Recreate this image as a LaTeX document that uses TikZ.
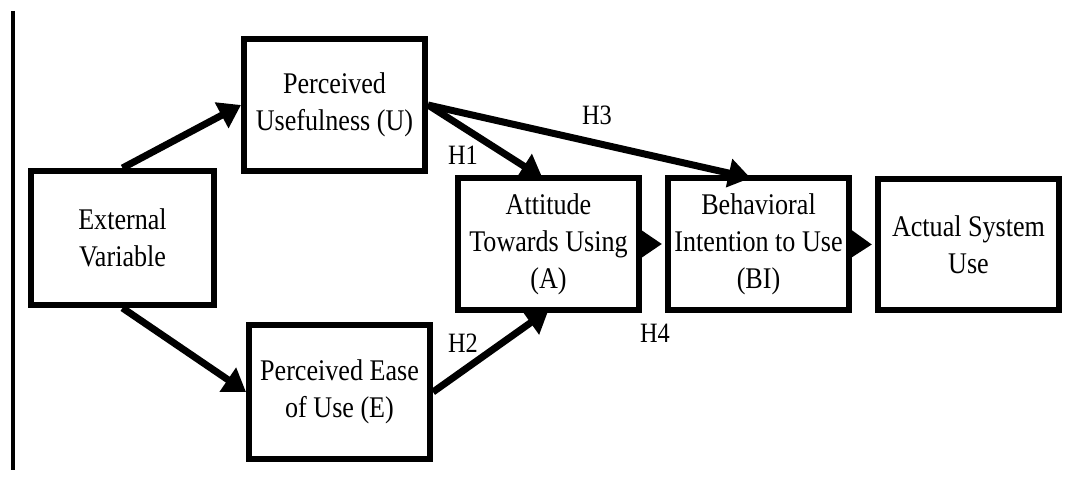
\documentclass[tikz,border=0pt]{standalone}
\usepackage{fontspec}
\setmainfont{Liberation Serif}[FakeStretch=0.87]
\usetikzlibrary{arrows.meta}
\begin{document}
\begin{tikzpicture}[x=1pt,y=-1pt,
  box/.style={draw=black,line width=6pt,fill=white,align=center,inner sep=0pt,
    minimum width=181pt,minimum height=132pt,font=\fontsize{30}{37}\selectfont},
  conn/.style={line width=7pt,-{Triangle[length=22pt,width=28pt]}},
  hlab/.style={inner sep=0pt,font=\fontsize{28}{32}\selectfont}]
\useasboundingbox (0,0) rectangle (1081,481);
\draw[line width=4pt] (13,11) coordinate (lt) -- (13,470) coordinate (lb);
\node[box,minimum width=183pt,minimum height=134pt] (ext) at (122.5,238) {External\\Variable};
\node[box] (pu) at (334.5,105) {Perceived\\Usefulness (U)};
\node[box,minimum height=134pt] (pe) at (339.5,392) {Perceived Ease\\of Use (E)};
\node[box] (a) at (548.5,244) {Attitude\\Towards Using\\(A)};
\node[box] (bi) at (758.5,244) {Behavioral\\Intention to Use\\(BI)};
\node[box,minimum height=131pt] (asu) at (968.5,244.5) {Actual System\\Use};
\draw[conn] (ext.north) -- (pu.west);
\draw[conn] (ext.south) -- (pe.west);
\draw[conn] (pu.east) -- ([xshift=-6pt,yshift=-3pt]a.north);
\draw[conn] (pu.east) -- ([xshift=-8pt,yshift=-3pt]bi.north);
\draw[conn] (pe.east) -- ([yshift=3pt]a.south);
\draw[conn] (a.east) -- ([xshift=-3pt]bi.west);
\draw[conn] (bi.east) -- ([xshift=-3pt]asu.west);
\node[hlab] (h1) at (463,155) {H1};
\node[hlab] (h3) at (597,115) {H3};
\node[hlab] (h2) at (463,343) {H2};
\node[hlab] (h4) at (655,333) {H4};
\end{tikzpicture}
\end{document}
